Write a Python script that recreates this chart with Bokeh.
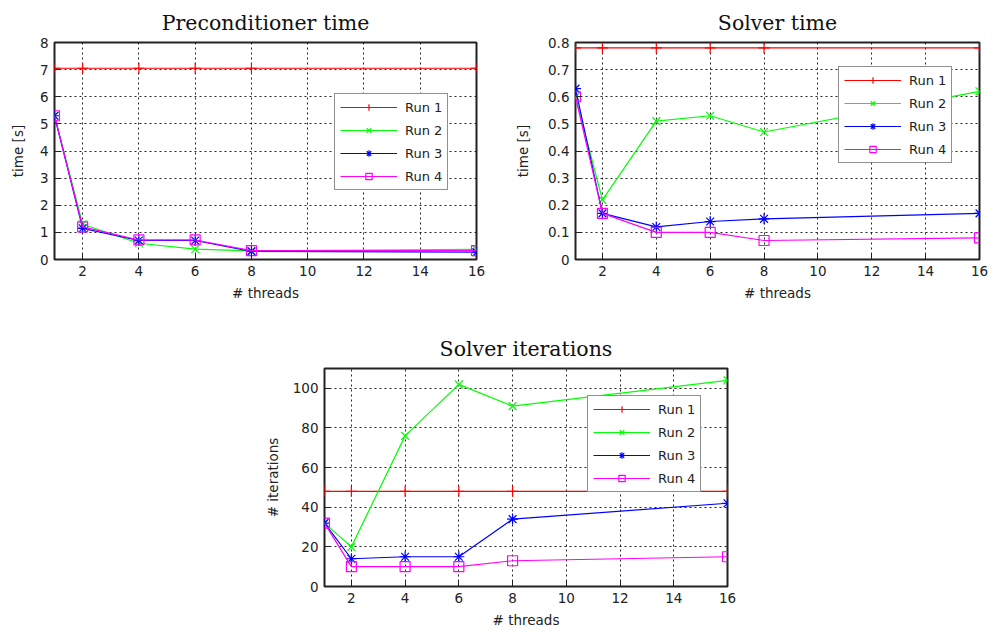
from bokeh.plotting import figure
from bokeh.layouts import column, row
from bokeh.models import Range1d, FixedTicker, Legend, LegendItem, Spacer
from bokeh.embed import file_html
from bokeh.resources import INLINE

threads = [1, 2, 4, 6, 8, 16]
run_labels = ["Run 1", "Run 2", "Run 3", "Run 4"]
x_ticks = [2, 4, 6, 8, 10, 12, 14, 16]

# Preconditioner time [s]
pre_run1 = [7.05, 7.05, 7.05, 7.05, 7.05, 7.05]
pre_run2 = [5.3, 1.3, 0.6, 0.38, 0.32, 0.37]
pre_run3 = [5.3, 1.15, 0.7, 0.7, 0.3, 0.27]
pre_run4 = [5.3, 1.2, 0.72, 0.72, 0.33, 0.33]
pre_yticks = [0, 1, 2, 3, 4, 5, 6, 7, 8]

# Solver time [s]
sol_run1 = [0.78, 0.78, 0.78, 0.78, 0.78, 0.78]
sol_run2 = [0.60, 0.22, 0.51, 0.53, 0.47, 0.62]
sol_run3 = [0.63, 0.17, 0.12, 0.14, 0.15, 0.17]
sol_run4 = [0.60, 0.17, 0.10, 0.10, 0.07, 0.08]
sol_yticks = [0, 0.1, 0.2, 0.3, 0.4, 0.5, 0.6, 0.7, 0.8]
sol_ylabels = ["0", "0.1", "0.2", "0.3", "0.4", "0.5", "0.6", "0.7", "0.8"]

# Solver iterations
it_run1 = [48, 48, 48, 48, 48, 48]
it_run2 = [32, 20, 76, 102, 91, 104]
it_run3 = [32, 14, 15, 15, 34, 42]
it_run4 = [32, 10, 10, 10, 13, 15]
it_yticks = [0, 20, 40, 60, 80, 100]

colors = ["#ff0000", "#00ff00", "#0000ff", "#ff00ff"]
markers = ["cross", "x", "asterisk", "square"]

TICK_FONT = "DejaVu Sans"


def make_fig(title, ylabel, ymax, yticks, series, frame_w, frame_h,
             b_left, b_right, b_top, b_bottom, leg_loc, ylab_standoff,
             ylabel_overrides=None):
    p = figure(width=b_left + frame_w + b_right,
               height=b_top + frame_h + b_bottom,
               x_range=Range1d(1, 16), y_range=Range1d(0, ymax),
               output_backend="svg", toolbar_location=None,
               min_border_left=b_left, min_border_right=b_right,
               min_border_top=b_top, min_border_bottom=b_bottom,
               title=title)
    p.title.text_font = "DejaVu Serif"
    p.title.text_font_size = "20.5px"
    p.title.text_font_style = "normal"
    p.title.align = "center"
    p.title.text_color = "#111111"
    p.title.standoff = 16
    p.outline_line_color = "#222222"
    p.outline_line_width = 2
    p.background_fill_color = "white"
    p.border_fill_color = "white"

    p.xaxis.ticker = FixedTicker(ticks=x_ticks)
    p.yaxis.ticker = FixedTicker(ticks=yticks)
    if ylabel_overrides:
        p.yaxis.major_label_overrides = ylabel_overrides
    for ax in (p.xaxis, p.yaxis):
        ax.axis_line_color = None
        ax.major_tick_in = 6
        ax.major_tick_out = 0
        ax.major_tick_line_color = "#222222"
        ax.minor_tick_line_color = None
        ax.major_label_text_font = TICK_FONT
        ax.major_label_text_font_size = "13.5px"
        ax.major_label_text_color = "#222222"
        ax.axis_label_text_font = TICK_FONT
        ax.axis_label_text_font_size = "13.5px"
        ax.axis_label_text_font_style = "normal"
        ax.axis_label_text_color = "#222222"
    p.xaxis.axis_label = "# threads"
    p.yaxis.axis_label = ylabel
    p.xaxis.major_label_standoff = 6
    p.xaxis.axis_label_standoff = 6
    p.yaxis.major_label_standoff = 6
    p.yaxis.axis_label_standoff = ylab_standoff

    for g in (p.xgrid, p.ygrid):
        g.grid_line_color = "#000000"
        g.grid_line_dash = "2 3"
        g.grid_line_alpha = 0.85
        g.grid_line_width = 1

    items = []
    for i, ys in enumerate(series):
        ln = p.line(threads, ys, line_color=colors[i], line_width=1.2)
        if markers[i] == "square":
            mk = p.scatter(threads, ys, marker="square", size=10,
                           line_color=colors[i], fill_color=None, line_width=1.2)
        else:
            mk = p.scatter(threads, ys, marker=markers[i], size=11,
                           line_color=colors[i], line_width=1.2)
        items.append(LegendItem(label=run_labels[i], renderers=[ln, mk]))

    leg = Legend(items=items, location=leg_loc)
    leg.border_line_color = "#222222"
    leg.border_line_width = 1.5
    leg.background_fill_color = "white"
    leg.background_fill_alpha = 1.0
    leg.padding = 5
    leg.spacing = 7
    leg.margin = 0
    leg.glyph_width = 57
    leg.glyph_height = 16
    leg.label_height = 16
    leg.label_standoff = 8
    leg.label_text_font = TICK_FONT
    leg.label_text_font_size = "13px"
    leg.label_text_color = "#222222"
    p.add_layout(leg)
    return p


p1 = make_fig("Preconditioner time", "time [s]", 8, pre_yticks,
              [pre_run1, pre_run2, pre_run3, pre_run4],
              422, 219, 54, 10, 40, 45, (280, 69), 11)
p2 = make_fig("Solver time", "time [s]", 0.8, sol_yticks,
              [sol_run1, sol_run2, sol_run3, sol_run4],
              404, 217, 89, 15, 42, 45, (263, 96), 14,
              dict(zip(sol_yticks, sol_ylabels)))
p3 = make_fig("Solver iterations", "# iterations", 110, it_yticks,
              [it_run1, it_run2, it_run3, it_run4],
              403, 219, 64, 10, 64, 43, (263, 94), 9)

layout = column(row(p1, p2), row(Spacer(width=260), p3))
open("out.html", "w").write(file_html(layout, INLINE))
